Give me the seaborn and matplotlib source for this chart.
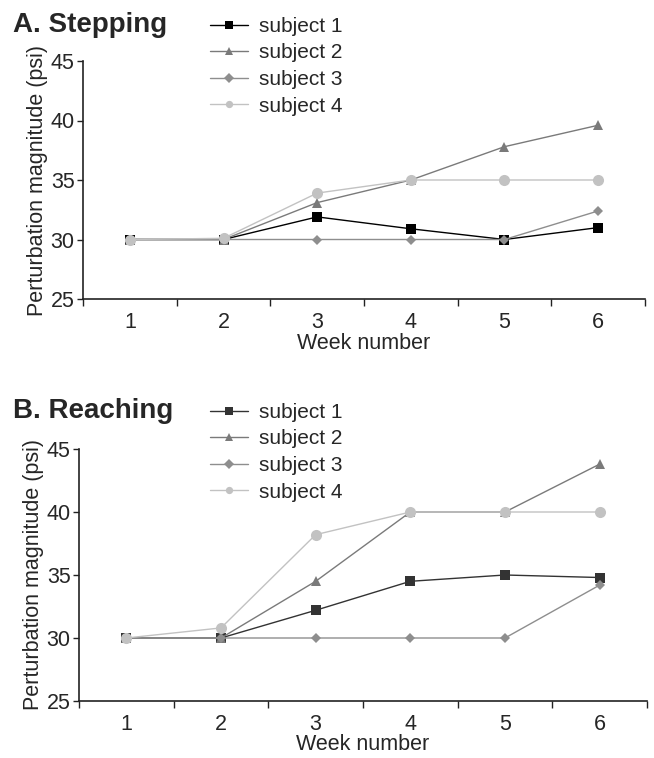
import numpy as np
import pandas as pd
import matplotlib
matplotlib.use("Agg")
import matplotlib.pyplot as plt
import seaborn as sns

weeks = [1, 2, 3, 4, 5, 6]
subjects = ["subject 1", "subject 2", "subject 3", "subject 4"]

# A. Stepping
step_s1 = [30, 30, 31.9, 30.9, 30, 31.0]
step_s2 = [30, 30, 33.1, 35, 37.8, 39.6]
step_s3 = [30, 30, 30, 30, 30, 32.4]
step_s4 = [30, 30.1, 33.9, 35, 35, 35]

# B. Reaching
reach_s1 = [30, 30, 32.2, 34.5, 35.0, 34.8]
reach_s2 = [30, 30, 34.5, 40, 40, 43.8]
reach_s3 = [30, 30, 30, 30, 30, 34.2]
reach_s4 = [30, 30.8, 38.2, 40, 40, 40]

yticks = [25, 30, 35, 40, 45]

def to_long(series):
    rows = []
    for name, vals in zip(subjects, series):
        for w, v in zip(weeks, vals):
            rows.append({"week": w, "value": v, "subject": name})
    return pd.DataFrame(rows)

step_df = to_long([step_s1, step_s2, step_s3, step_s4])
reach_df = to_long([reach_s1, reach_s2, reach_s3, reach_s4])

markers = {"subject 1": "s", "subject 2": "^", "subject 3": "D", "subject 4": "o"}
sizes = {"subject 1": 7.5, "subject 2": 7.5, "subject 3": 5.5, "subject 4": 8}

sns.set_style("white")
plt.rcParams["font.family"] = ["Liberation Sans", "DejaVu Sans"]

fig = plt.figure(figsize=(6.54, 7.58), dpi=100)
axA = fig.add_axes([83/654, 1-299/758, 562/654, 238/758])
axB = fig.add_axes([79/654, 1-701/758, 568/654, 252/758])

# axes, data, colours, title, title baseline, legend top
panels = [
    (axA, step_df, ["#000000", "#7a7a7a", "#8e8e8e", "#c2c2c2"], "A. Stepping", 1-32/758, 1-17/758),
    (axB, reach_df, ["#333333", "#7a7a7a", "#8e8e8e", "#c2c2c2"], "B. Reaching", 1-418/758, 1-403/758),
]

for ax, df, colors, title, ty, ly in panels:
    pal = dict(zip(subjects, colors))
    sns.lineplot(data=df, x="week", y="value", hue="subject", style="subject",
                 markers=markers, dashes=False, palette=pal, linewidth=1,
                 markersize=7, markeredgewidth=0, ax=ax, legend=True)
    for line, name in zip(ax.get_lines(), subjects):
        line.set_markersize(sizes[name])
    handles, labels = ax.get_legend_handles_labels()
    ax.get_legend().remove()
    ax.legend(handles, labels, loc="upper left",
              bbox_to_anchor=(210/654, ly), bbox_transform=fig.transFigure,
              frameon=False, fontsize=15, handlelength=1.8, handletextpad=0.55,
              labelspacing=0.36, borderpad=0, borderaxespad=0, markerscale=0.75)

    ax.set_xlim(0.5, 6.5)
    ax.set_ylim(25, 45)
    ax.set_yticks(yticks)
    ax.set_xticks(weeks)
    ax.set_xticks(np.arange(0.5, 7, 1), minor=True)
    ax.tick_params(axis="x", which="major", length=0, pad=9, labelsize=15.5)
    ax.tick_params(axis="x", which="minor", length=5, width=1, direction="out",
                   color="#222222", bottom=True)
    ax.tick_params(axis="y", length=4, width=1, direction="out", color="#222222",
                   pad=2, labelsize=15.5, left=True)
    for side in ["top", "right"]:
        ax.spines[side].set_visible(False)
    for side in ["left", "bottom"]:
        ax.spines[side].set_color("#222222")
        ax.spines[side].set_linewidth(1.2)
    ax.set_xlabel("Week number", fontsize=15.5, labelpad=0)
    ax.set_ylabel("Perturbation magnitude (psi)", fontsize=15.5, labelpad=2)
    fig.text(13/654, ty, title, fontsize=20, fontweight="bold", va="baseline", ha="left")

fig.savefig("out.png", dpi=100)
